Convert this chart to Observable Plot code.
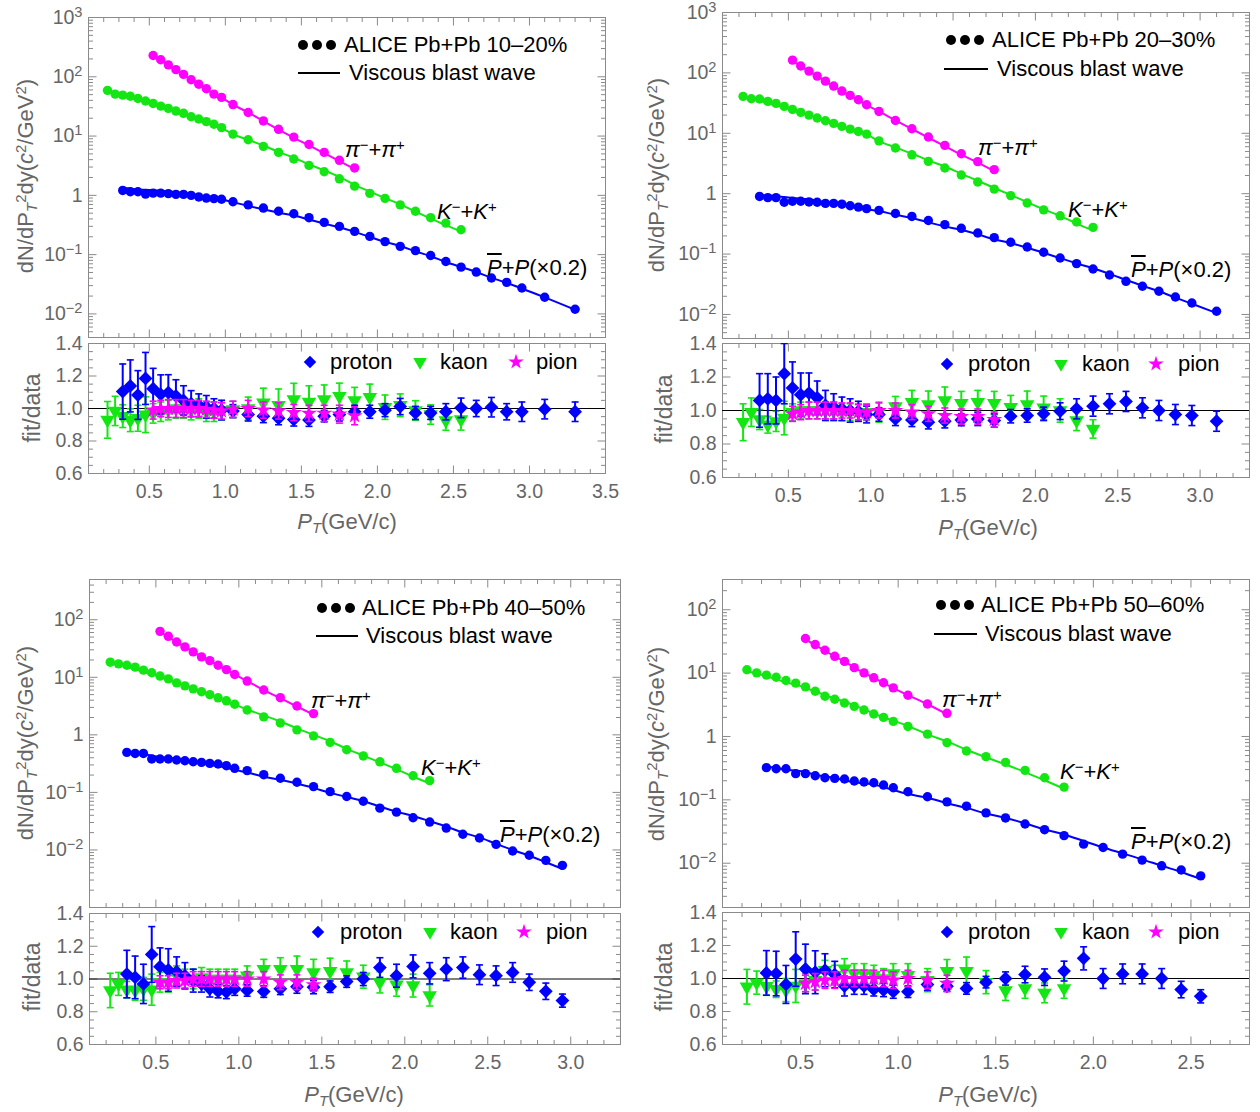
<!DOCTYPE html>
<html><head><meta charset="utf-8">
<script src="https://cdn.jsdelivr.net/npm/d3@7"></script>
<script src="https://cdn.jsdelivr.net/npm/@observablehq/plot@0.6"></script>
<style>
body{margin:0;background:#fff;}
#page{position:relative;width:1260px;height:1112px;overflow:hidden;background:#fff;font-family:"Liberation Sans",Arial,sans-serif;}
.lbl{position:absolute;white-space:nowrap;line-height:1;transform:translateY(-50%);}
.lbl sup{font-size:0.68em;vertical-align:0.5em;line-height:0;}
.lbl sub{font-size:0.68em;vertical-align:-0.28em;line-height:0;}
.ov{text-decoration:overline;}
.dots{display:flex;gap:4px;position:absolute;transform:translateY(-50%);}
.dots span{display:block;width:10px;height:10px;border-radius:50%;background:#000;}
.hline{position:absolute;height:2px;background:#000;transform:translateY(-50%);}
</style></head>
<body><div id="page"></div>
<script>
// ---------- DATA ----------
const centralities = ["10–20%", "20–30%", "40–50%", "50–60%"];
// common pT bin centres (GeV/c)
const ptBins = [0.225,0.275,0.325,0.375,0.425,0.475,0.525,0.575,0.625,0.675,0.725,0.775,0.825,0.875,0.925,0.975,
  1.05,1.15,1.25,1.35,1.45,1.55,1.65,1.75,1.85,1.95,2.05,2.15,2.25,2.35,2.45,2.55,2.65,2.75,2.85,2.95,3.1,3.3];
const pionStartBin = 6, kaonStartBin = 0, protonStartBin = 2;

// ---- 10-20% ----
const pion1 = [229,194,159,132,110,89,75,63,51,45,34,25,18,13,9.6,7.2,5.3,3.9,2.9];
const pionR1 = [0.99,1.0,1.0,1.0,1.0,1.0,1.0,0.995,0.99,0.985,0.995,1.0,0.99,0.985,0.975,0.97,0.97,0.965,0.955];
const pionE1 = [0.055,0.05,0.055,0.055,0.055,0.05,0.05,0.05,0.05,0.05,0.05,0.05,0.05,0.05,0.05,0.05,0.05,0.055,0.055];
const kaon1 = [59,51,49,47,43,39,35.5,32,29.3,26.4,24.2,21.2,19.4,17.5,15.8,13.9,10.8,8.65,6.7,5.3,4.1,3.2,2.5,1.9,1.43,1.08,0.89,0.69,0.54,0.42,0.34,0.263];
const kaonR1 = [0.93,0.985,0.953,0.928,0.94,0.962,0.97,0.98,0.99,1.0,1.0,0.99,1.0,0.98,0.98,0.99,
  0.994,1.0,1.035,1.02,1.055,1.04,1.055,1.076,1.05,1.07,1.008,1.02,0.988,0.963,0.926,0.932];
const kaonE1 = [0.113,0.09,0.07,0.07,0.08,0.11,0.06,0.06,0.06,0.06,0.06,0.06,0.06,0.06,0.06,0.06,
  0.05,0.07,0.09,0.10,0.10,0.10,0.09,0.08,0.08,0.08,0.075,0.07,0.06,0.06,0.06,0.065];
const proton1 = [1.21,1.15,1.15,1.05,1.09,1.09,1.07,1.04,1.04,1.0,0.94,0.90,0.88,0.86,
  0.78,0.69,0.61,0.54,0.49,0.42,0.35,0.30,0.247,0.203,0.166,0.138,0.117,0.0966,0.0767,0.0616,0.0508,0.0403,0.0341,0.0274,0.0191,0.0120];
const protonR1 = [1.104,1.139,1.083,1.185,1.122,1.087,1.098,1.077,1.05,1.03,1.02,1.01,1.0,0.99,
  0.984,0.963,0.953,0.94,0.932,0.93,0.953,0.963,0.98,0.98,0.99,1.012,0.973,0.973,0.98,1.004,1.0,1.008,0.98,0.98,0.996,0.98];
const protonE1 = [0.17,0.16,0.15,0.16,0.125,0.12,0.11,0.10,0.09,0.08,0.07,0.07,0.06,0.06,
  0.04,0.04,0.04,0.04,0.04,0.04,0.035,0.04,0.04,0.04,0.04,0.05,0.04,0.04,0.05,0.06,0.05,0.06,0.05,0.06,0.06,0.06];

// ---- 20-30% ----
const pion2 = [163,130,107,88.5,73,60.5,50,42.4,35.9,29.7,23,16.3,11.9,8.67,6.3,4.59,3.39,2.5];
const pionR2 = [0.98,0.99,1.0,1.0,1.0,1.0,1.0,1.0,0.99,0.99,1.0,1.0,0.99,0.98,0.97,0.964,0.964,0.946];
const pionE2 = [0.045,0.045,0.05,0.05,0.05,0.05,0.045,0.045,0.045,0.045,0.045,0.045,0.045,0.045,0.045,0.045,0.045,0.045];
const kaon2 = [40.8,37.3,36.9,33.7,31.3,27.9,24.8,22.2,20,17.9,16.1,14.6,13,11.7,10.7,9.7,7.5,5.7,4.4,3.43,2.66,2.04,1.56,1.19,0.93,0.70,0.54,0.43,0.34,0.277];
const kaonR2 = [0.93,0.99,0.946,0.915,0.935,0.955,0.99,1.0,1.0,1.0,1.0,1.0,0.99,0.99,0.99,0.99,
  0.99,1.024,1.05,1.036,1.06,1.044,1.05,1.044,1.02,1.036,1.016,1.0,0.94,0.89];
const kaonE2 = [0.11,0.085,0.06,0.05,0.06,0.10,0.05,0.05,0.05,0.05,0.05,0.05,0.05,0.05,0.05,0.05,
  0.06,0.06,0.07,0.08,0.08,0.07,0.07,0.07,0.07,0.08,0.07,0.07,0.06,0.055];
const proton2 = [0.90,0.86,0.86,0.72,0.75,0.75,0.73,0.72,0.69,0.69,0.67,0.63,0.60,0.565,
  0.53,0.47,0.42,0.36,0.307,0.267,0.223,0.187,0.157,0.131,0.107,0.086,0.0695,0.0567,0.0451,0.0354,0.0293,0.0242,0.0195,0.0155,0.0113];
const protonR2 = [1.06,1.07,1.06,1.22,1.135,1.094,1.104,1.076,1.03,1.02,1.01,1.0,0.995,0.976,
  0.976,0.95,0.944,0.93,0.936,0.944,0.95,0.94,0.966,0.97,0.98,0.996,1.01,1.026,1.04,1.054,1.016,1.0,0.976,0.97,0.936];
const protonE2 = [0.16,0.15,0.14,0.18,0.155,0.13,0.12,0.10,0.09,0.08,0.07,0.07,0.06,0.05,
  0.04,0.04,0.04,0.04,0.04,0.035,0.04,0.04,0.04,0.04,0.04,0.05,0.06,0.06,0.06,0.06,0.06,0.06,0.06,0.06,0.06];

// ---- 40-50% ----
const pion3 = [62.8,51.5,41.1,33.7,27.6,22.6,19.5,16.2,13.6,11.2,8.6,6.0,4.42,3.17,2.34];
const pionR3 = [0.98,0.98,0.99,0.99,1.0,1.0,1.0,1.0,1.0,1.0,1.0,1.0,0.98,0.98,0.965];
const pionE3 = [0.04,0.04,0.045,0.045,0.045,0.045,0.045,0.045,0.045,0.045,0.045,0.045,0.045,0.045,0.04];
const kaon3 = [18.3,17.1,16.2,15,13.3,12,10.5,9.4,8.0,7.1,6.3,5.6,5.0,4.4,3.9,3.4,2.7,2.05,1.61,1.22,0.96,0.74,0.55,0.43,0.34,0.262,0.195,0.160];
const kaonR3 = [0.93,0.97,0.935,0.93,0.94,0.935,0.98,0.98,1.02,1.0,1.0,1.01,1.0,1.0,1.0,1.0,
  1.02,1.06,1.06,1.06,1.04,1.047,1.04,1.014,0.98,0.965,0.96,0.9];
const kaonE3 = [0.105,0.07,0.05,0.06,0.07,0.095,0.06,0.06,0.06,0.06,0.06,0.06,0.06,0.06,0.06,0.06,
  0.06,0.06,0.07,0.08,0.08,0.08,0.07,0.07,0.065,0.07,0.07,0.065];
const proton3 = [0.495,0.475,0.475,0.38,0.38,0.38,0.365,0.355,0.341,0.332,0.319,0.311,0.291,0.262,
  0.239,0.203,0.176,0.15,0.126,0.103,0.0847,0.0703,0.0532,0.0454,0.0362,0.0305,0.024,0.0187,0.0161,0.0125,0.0096,0.0081,0.0066,0.0054];
const protonR3 = [1.03,1.01,0.97,1.15,1.075,1.055,1.045,1.02,0.99,0.97,0.94,0.925,0.92,0.94,
  0.93,0.923,0.94,0.953,0.95,0.953,0.984,1.0,1.07,1.02,1.077,1.035,1.06,1.07,1.026,1.02,1.04,0.98,0.925,0.868];
const protonE3 = [0.145,0.13,0.12,0.17,0.115,0.13,0.09,0.08,0.07,0.05,0.05,0.04,0.04,0.04,
  0.035,0.035,0.035,0.04,0.04,0.035,0.035,0.04,0.06,0.07,0.07,0.065,0.07,0.065,0.06,0.06,0.06,0.05,0.05,0.04];

// ---- 50-60% ----
const pion4 = [35.1,28.2,22.9,18.4,15.3,12.2,10.1,8.43,7.03,5.85,4.48,3.26,2.32];
const pionR4 = [0.97,0.98,0.99,0.99,1.0,1.0,1.0,1.0,1.0,0.99,1.0,0.99,0.97];
const pionE4 = [0.05,0.05,0.05,0.05,0.05,0.05,0.05,0.05,0.05,0.05,0.05,0.05,0.05];
const kaon4 = [11.3,10.1,9.3,8.6,7.65,6.94,6.07,5.18,4.31,3.87,3.38,2.99,2.62,2.26,2.0,1.73,1.44,1.09,0.80,0.59,0.48,0.39,0.292,0.223,0.159];
const kaonR4 = [0.95,0.975,0.953,0.935,0.93,0.955,0.97,0.99,1.05,1.02,1.06,1.03,1.03,1.02,1.0,1.03,
  1.02,0.99,1.045,1.045,0.978,0.927,0.94,0.913,0.94];
const kaonE4 = [0.105,0.07,0.055,0.05,0.07,0.1,0.06,0.06,0.06,0.06,0.06,0.06,0.06,0.06,0.06,0.06,
  0.07,0.07,0.07,0.085,0.07,0.06,0.06,0.06,0.06];
const proton4 = [0.322,0.31,0.31,0.259,0.259,0.24,0.223,0.218,0.213,0.198,0.191,0.186,0.171,0.155,
  0.134,0.112,0.093,0.0794,0.0622,0.0518,0.0416,0.0338,0.0272,0.02,0.0177,0.0139,0.0112,0.0091,0.0078,0.0063];
const protonR4 = [1.034,1.03,0.964,1.118,1.058,1.038,1.05,1.024,0.954,0.954,0.954,0.934,0.93,0.92,
  0.92,0.963,0.953,0.94,0.978,1.0,1.024,1.008,1.045,1.122,1.0,1.028,1.028,1.0,0.933,0.892];
const protonE4 = [0.135,0.135,0.115,0.165,0.15,0.13,0.10,0.08,0.06,0.05,0.05,0.04,0.04,0.04,
  0.035,0.035,0.03,0.035,0.035,0.04,0.05,0.05,0.06,0.07,0.06,0.06,0.06,0.06,0.05,0.04];

// ---------- assembly ----------
const panelData = [
  {pion:pion1,pionR:pionR1,pionE:pionE1,kaon:kaon1,kaonR:kaonR1,kaonE:kaonE1,proton:proton1,protonR:protonR1,protonE:protonE1},
  {pion:pion2,pionR:pionR2,pionE:pionE2,kaon:kaon2,kaonR:kaonR2,kaonE:kaonE2,proton:proton2,protonR:protonR2,protonE:protonE2},
  {pion:pion3,pionR:pionR3,pionE:pionE3,kaon:kaon3,kaonR:kaonR3,kaonE:kaonE3,proton:proton3,protonR:protonR3,protonE:protonE3},
  {pion:pion4,pionR:pionR4,pionE:pionE4,kaon:kaon4,kaonR:kaonR4,kaonE:kaonE4,proton:proton4,protonR:protonR4,protonE:protonE4}
];

const colors = {pion:"#ff00ff", kaon:"#14e614", proton:"#0000ff"};
const frameGray = "#8a8a8a", labelGray = "#666666";
const ns = "http://www.w3.org/2000/svg";
const page = document.getElementById("page");

// layout of each panel (page coordinates)
const layouts = [
  {x:0,   y:0,   w:630, ml:88, mr:25, up:{h:340,mt:17,mb:3}, rat:{top:340,h:200,mt:3,mb:67}, xd:[0.1,3.5], yd:[0.004,1000], yLab:[-2,3]},
  {x:630, y:0,   w:630, ml:92, mr:11, up:{h:340,mt:12,mb:2}, rat:{top:340,h:200,mt:3,mb:63}, xd:[0.1,3.3], yd:[0.004,1000], yLab:[-2,3]},
  {x:0,   y:560, w:630, ml:89, mr:10, up:{h:350,mt:19,mb:3}, rat:{top:350,h:200,mt:3,mb:66}, xd:[0.1,3.3], yd:[0.001,500], yLab:[-2,2]},
  {x:630, y:560, w:630, ml:92, mr:11, up:{h:350,mt:19,mb:3}, rat:{top:350,h:200,mt:2,mb:66}, xd:[0.1,2.8], yd:[0.002,300], yLab:[-2,2]}
];

function series(start, vals, ratio, err) {
  return vals.map((v, i) => ({pt: ptBins[start + i], v, r: ratio[i], e: err[i], fit: v * ratio[i]}));
}

// tick symbols (inward frame ticks, error-bar caps)
function sym(fn){ return {draw(ctx, size){ const r = Math.sqrt(size/Math.PI); fn(ctx, r); }}; }
const tickUp = sym((c,r)=>{c.moveTo(0,0);c.lineTo(0,-r);});
const tickDown = sym((c,r)=>{c.moveTo(0,0);c.lineTo(0,r);});
const tickRight = sym((c,r)=>{c.moveTo(0,0);c.lineTo(r,0);});
const tickLeft = sym((c,r)=>{c.moveTo(0,0);c.lineTo(-r,0);});
const capSym = sym((c,r)=>{c.moveTo(-r,0);c.lineTo(r,0);});

function stepTicks(lo, hi, step) {
  const out = [];
  for (let k = Math.ceil(lo/step - 1e-9); k*step <= hi + 1e-9; k++) out.push(+(k*step).toFixed(4));
  return out;
}
function xTicks(d) {
  const maj = stepTicks(0.5, d[1], 0.5);
  const min = stepTicks(d[0], d[1], 0.1).filter(v => !maj.some(m => Math.abs(m-v) < 1e-6));
  return {maj, min};
}
function logTicks(d) {
  const maj = [], min = [];
  for (let k = Math.floor(Math.log10(d[0])); k <= Math.ceil(Math.log10(d[1])); k++) {
    for (let m = 1; m <= 9; m++) {
      const v = m * Math.pow(10, k);
      if (v < d[0]*0.999 || v > d[1]*1.001) continue;
      (m === 1 ? maj : min).push(v);
    }
  }
  return {maj, min};
}
function frameTickMarks(xt, yt) {
  const o = {stroke: frameGray, fill: "none", strokeWidth: 1};
  return [
    Plot.dot(xt.maj, {x: d=>d, frameAnchor:"bottom", symbol: tickUp, r: 8, ...o}),
    Plot.dot(xt.min, {x: d=>d, frameAnchor:"bottom", symbol: tickUp, r: 4.5, ...o}),
    Plot.dot(xt.maj, {x: d=>d, frameAnchor:"top", symbol: tickDown, r: 8, ...o}),
    Plot.dot(xt.min, {x: d=>d, frameAnchor:"top", symbol: tickDown, r: 4.5, ...o}),
    Plot.dot(yt.maj, {y: d=>d, frameAnchor:"left", symbol: tickRight, r: 8, ...o}),
    Plot.dot(yt.min, {y: d=>d, frameAnchor:"left", symbol: tickRight, r: 4.5, ...o}),
    Plot.dot(yt.maj, {y: d=>d, frameAnchor:"right", symbol: tickLeft, r: 8, ...o}),
    Plot.dot(yt.min, {y: d=>d, frameAnchor:"right", symbol: tickLeft, r: 4.5, ...o})
  ];
}
const fmtLog = d => { const k = Math.round(Math.log10(d)); return k === 0 ? "1" : "10^" + (k < 0 ? "\u2212" + (-k) : String(k)); };

function superscriptLabels(svg) {
  svg.querySelectorAll('g[aria-label="y-axis tick label"] text').forEach(t => {
    const m = t.textContent.match(/^10\^(.+)$/);
    if (m) {
      t.textContent = "10";
      const ts = document.createElementNS(ns, "tspan");
      ts.setAttribute("dy", "-0.48em");
      ts.setAttribute("font-size", "0.75em");
      ts.textContent = m[1];
      t.appendChild(ts);
    }
  });
}
const plotStyle = {fontFamily: "'Liberation Sans', Arial, sans-serif", fontSize: "19.5px", background: "transparent", overflow: "visible", color: labelGray};

function place(svg, left, top) {
  svg.style.position = "absolute";
  svg.style.left = left + "px";
  svg.style.top = top + "px";
  svg.style.overflow = "visible";
  page.appendChild(svg);
}

layouts.forEach((L, i) => {
  const P = panelData[i];
  const pion = series(pionStartBin, P.pion, P.pionR, P.pionE);
  const kaon = series(kaonStartBin, P.kaon, P.kaonR, P.kaonE);
  const proton = series(protonStartBin, P.proton, P.protonR, P.protonE);
  const xt = xTicks(L.xd);

  // ---------------- upper spectra ----------------
  const lt = logTicks(L.yd);
  const labTicks = lt.maj.filter(v => { const k = Math.round(Math.log10(v)); return k >= L.yLab[0] && k <= L.yLab[1]; });
  const up = Plot.plot({
    width: L.w, height: L.up.h,
    marginLeft: L.ml, marginRight: L.mr, marginTop: L.up.mt, marginBottom: L.up.mb,
    x: {domain: L.xd, axis: null},
    y: {type: "log", domain: L.yd, axis: null},
    style: plotStyle,
    marks: [
      ...frameTickMarks(xt, lt),
      Plot.frame({stroke: frameGray, strokeWidth: 1}),
      Plot.axisY({ticks: labTicks, tickSize: 0, tickPadding: 6, tickFormat: fmtLog, color: labelGray, label: null}),
      ...[["proton", proton], ["kaon", kaon], ["pion", pion]].flatMap(([k, S]) => [
        Plot.line(S, {x: "pt", y: "fit", stroke: colors[k], strokeWidth: 2, curve: "monotone-x"}),
        Plot.dot(S, {x: "pt", y: "v", fill: colors[k], r: 4.7})
      ])
    ]
  });
  superscriptLabels(up);
  place(up, L.x, L.y);

  // ---------------- lower ratio ----------------
  const rt = {maj: stepTicks(0.6, 1.4, 0.2), min: stepTicks(0.6, 1.4, 0.05).filter(v => Math.abs((v*5) - Math.round(v*5)) > 1e-6)};
  const markFor = {
    proton: {symbol: "diamond2", r: 6.2, rotate: 0},
    kaon: {symbol: "triangle", r: 5.4, rotate: 180},
    pion: {symbol: "star", r: 5.0, rotate: 0}
  };
  const low = Plot.plot({
    width: L.w, height: L.rat.h,
    marginLeft: L.ml, marginRight: L.mr, marginTop: L.rat.mt, marginBottom: L.rat.mb,
    x: {domain: L.xd, axis: null},
    y: {domain: [0.6, 1.4], axis: null},
    style: plotStyle,
    marks: [
      ...frameTickMarks(xt, rt),
      Plot.frame({stroke: frameGray, strokeWidth: 1}),
      Plot.axisY({ticks: rt.maj, tickSize: 0, tickPadding: 6, tickFormat: d3.format(".1f"), color: labelGray, label: null}),
      Plot.axisX({ticks: xt.maj, tickSize: 0, tickPadding: 11, tickFormat: d3.format(".1f"), color: labelGray, label: null}),
      Plot.ruleY([1], {stroke: "#000", strokeWidth: 1.2}),
      ...[["kaon", kaon], ["proton", proton], ["pion", pion]].flatMap(([k, S]) => [
        Plot.ruleX(S, {x: "pt", y1: d => d.r - d.e, y2: d => d.r + d.e, stroke: colors[k], strokeWidth: 2, clip: true}),
        Plot.dot(S, {x: "pt", y: d => d.r + d.e, symbol: capSym, r: 3.5, stroke: colors[k], fill: "none", strokeWidth: 1.6, clip: true}),
        Plot.dot(S, {x: "pt", y: d => d.r - d.e, symbol: capSym, r: 3.5, stroke: colors[k], fill: "none", strokeWidth: 1.6, clip: true}),
        Plot.dot(S, {x: "pt", y: "r", symbol: markFor[k].symbol, r: markFor[k].r, rotate: markFor[k].rotate, fill: colors[k], stroke: "none", clip: true})
      ])
    ]
  });
  place(low, L.x, L.y + L.rat.top);
});

// ---------- text overlays ----------
function addLabel(html, x, y, size, color, mode) {
  const d = document.createElement("div");
  d.className = "lbl";
  d.style.left = x + "px"; d.style.top = y + "px";
  d.style.fontSize = size + "px";
  d.style.color = color;
  if (mode === "center") d.style.transform = "translate(-50%,-50%)";
  if (mode === "rotate") d.style.transform = "translate(-50%,-50%) rotate(-90deg)";
  d.innerHTML = html;
  page.appendChild(d);
}
function addSymbol(type, cx, cy, color, size, rot) {
  const s = document.createElementNS(ns, "svg");
  s.setAttribute("width", 24); s.setAttribute("height", 24);
  s.style.position = "absolute"; s.style.left = (cx - 12) + "px"; s.style.top = (cy - 12) + "px"; s.style.overflow = "visible";
  const p = document.createElementNS(ns, "path");
  p.setAttribute("d", d3.symbol(type, size)());
  p.setAttribute("transform", `translate(12,12) rotate(${rot})`);
  p.setAttribute("fill", color);
  s.appendChild(p); page.appendChild(s);
}
function addDots(x, y) {
  const d = document.createElement("div");
  d.className = "dots"; d.style.left = x + "px"; d.style.top = y + "px";
  d.innerHTML = "<span></span><span></span><span></span>";
  page.appendChild(d);
}
function addHLine(x1, x2, y) {
  const d = document.createElement("div");
  d.className = "hline"; d.style.left = x1 + "px"; d.style.top = y + "px"; d.style.width = (x2 - x1) + "px";
  page.appendChild(d);
}

const yTitle = 'dN/dP<sub><i>T</i></sub><sup>2</sup>dy(<i>c</i><sup>2</sup>/GeV<sup>2</sup>)';
const xTitle = '<i>P</i><sub><i>T</i></sub>(GeV/c)';
const piLabel = '<i>π</i><sup>−</sup>+<i>π</i><sup>+</sup>';
const kLabel = '<i>K</i><sup>−</sup>+<i>K</i><sup>+</sup>';
const pLabel = '<i class="ov">P</i>+<i>P</i>(×0.2)';

const overlay = [
  {yT:[26,176], fT:[32,408], xT:[347,522], leg:[298,45,344, 298,340,73,349], sp:[[345,150],[437,212],[487,268]], rl:[310,330,420,440,516,536,362]},
  {yT:[657,175], fT:[664,409], xT:[988,528], leg:[946,40,992, 944,988,69,997], sp:[[978,148],[1068,210],[1131,270]], rl:[947,968,1061,1082,1156,1178,364]},
  {yT:[26,743], fT:[32,977], xT:[354,1095], leg:[317,608,362, 316,358,636,366], sp:[[311,701],[421,768],[500,835]], rl:[318,340,430,450,524,546,932]},
  {yT:[657,744], fT:[664,977], xT:[988,1095], leg:[936,605,981, 934,977,634,985], sp:[[942,700],[1060,772],[1131,842]], rl:[947,968,1061,1082,1156,1178,932]}
];

overlay.forEach((o, i) => {
  addLabel(yTitle, o.yT[0], o.yT[1], 22, labelGray, "rotate");
  addLabel("fit/data", o.fT[0], o.fT[1], 23, labelGray, "rotate");
  addLabel(xTitle, o.xT[0], o.xT[1], 22, labelGray, "center");
  const g = o.leg;
  addDots(g[0], g[1]);
  addLabel("ALICE Pb+Pb " + centralities[i], g[2], g[1], 22, "#000");
  addHLine(g[3], g[4], g[5]);
  addLabel("Viscous blast wave", g[6], g[5], 22, "#000");
  addLabel(piLabel, o.sp[0][0], o.sp[0][1], 22, "#000");
  addLabel(kLabel, o.sp[1][0], o.sp[1][1], 22, "#000");
  addLabel(pLabel, o.sp[2][0], o.sp[2][1], 22, "#000");
  const r = o.rl;
  addSymbol(d3.symbolDiamond2, r[0], r[6], colors.proton, 100, 0);
  addLabel("proton", r[1], r[6], 22, "#000");
  addSymbol(d3.symbolTriangle, r[2], r[6], colors.kaon, 80, 180);
  addLabel("kaon", r[3], r[6], 22, "#000");
  addSymbol(d3.symbolStar, r[4], r[6], colors.pion, 75, 0);
  addLabel("pion", r[5], r[6], 22, "#000");
});
</script>
</body></html>
